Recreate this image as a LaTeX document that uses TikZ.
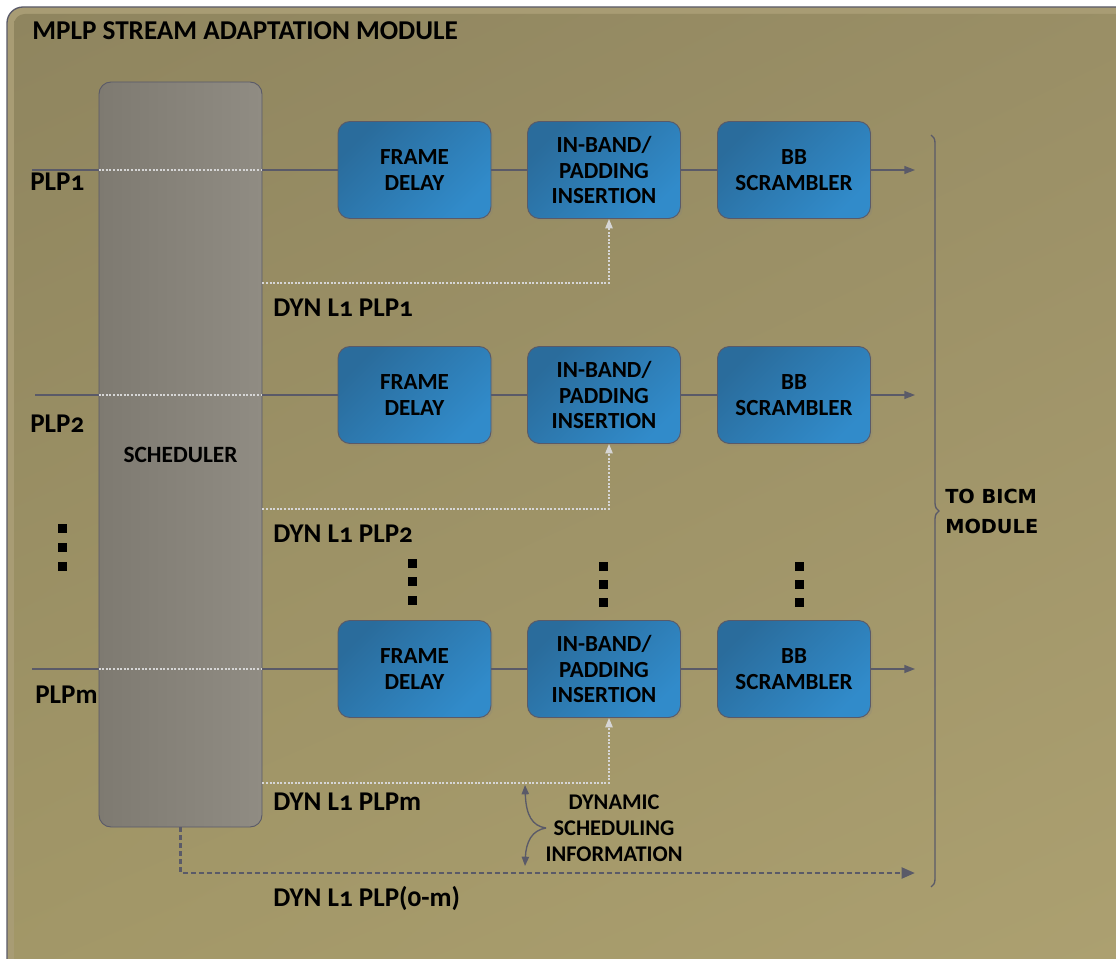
\documentclass[tikz,border=0pt]{standalone}
\usepackage{fontspec}
\setmainfont{Carlito}[Numbers=OldStyle]
\newfontfamily\vfont{DejaVu Sans}
\usetikzlibrary{arrows.meta,decorations.pathreplacing,shadows,shadings}
\definecolor{bgA}{HTML}{8F855F}
\definecolor{bgB}{HTML}{ADA171}
\definecolor{bgC}{HTML}{9A8F66}
\definecolor{bgD}{HTML}{A39868}
\definecolor{bgrim}{HTML}{A89C74}
\definecolor{blkA}{HTML}{2A6C9C}
\definecolor{blkB}{HTML}{318BCA}
\definecolor{schA}{HTML}{7E7A71}
\definecolor{schB}{HTML}{908C83}
\definecolor{linec}{HTML}{5A5A68}
\definecolor{fbc}{HTML}{D6D6D6}
\tikzset{
  blk/.style={draw=linec, line width=0.7pt, rounded corners=9pt,
    top color=blkA, bottom color=blkB, shading angle=45,
    minimum width=114.75pt, minimum height=72.75pt, inner sep=0pt, align=center,
    font=\bfseries\fontsize{17.3pt}{19.2pt}\selectfont,
    drop shadow={opacity=0.2, shadow xshift=1.5pt, shadow yshift=-1.5pt}},
  schedbox/.style={draw=linec, line width=0.7pt, rounded corners=9pt,
    left color=schA, right color=schB,
    minimum width=122.25pt, minimum height=558.75pt, inner sep=0pt,
    font=\bfseries\fontsize{17.5pt}{19pt}\selectfont},
  ln/.style={draw=linec, line width=1pt},
  dotw/.style={draw=fbc, line width=1pt, dash pattern=on 1.5pt off 1.2pt},
  fb/.style={draw=fbc, line width=1pt, dash pattern=on 1.5pt off 1.2pt,
    -{Triangle[length=7pt,width=5.5pt]}},
  outarr/.style={ln, -{Triangle[length=8pt,width=6pt]}},
  dsh/.style={draw=linec, line width=2.2pt, dash pattern=on 3.5pt off 2.5pt,
    -{Triangle[length=10pt,width=8pt]}},
  lbl/.style={anchor=west, inner sep=0pt, font=\bfseries\fontsize{20.3pt}{22pt}\selectfont},
  info/.style={inner sep=0pt, align=center, font=\bfseries\fontsize{16.8pt}{19.5pt}\selectfont},
  sq/.style={fill=black}
}
\begin{document}
\begin{tikzpicture}[x=0.75pt,y=-0.75pt]
\useasboundingbox (0,0) rectangle (1116,959);
\fill[white] (0,0) rectangle (1116,959);
\begin{scope}
\clip (0,0) rectangle (1116,959);
\path[fill=bgrim, draw=linec, line width=1pt, rounded corners=12pt] (7,7) rectangle (1150,1000);
\shade[upper left=bgA, upper right=bgC, lower left=bgD, lower right=bgB, rounded corners=8pt] (14,14) rectangle (1150,1000);
\end{scope}

\node[anchor=west, inner sep=0pt, font=\bfseries\fontsize{20.4pt}{24pt}\selectfont] (title) at (32,31) {MPLP STREAM ADAPTATION MODULE};

\node[schedbox] (sch) at (180.5,454.5) {SCHEDULER};

% rows
\foreach \i/\y/\fy/\iy in {1/170/283/32, 2/395/509/35, 3/669/783/32}{
  \node[blk] (fd\i) at (414.5,\y) {FRAME\\DELAY};
  \node[blk] (ib\i) at (604,\y) {IN-BAND/\\PADDING\\INSERTION};
  \node[blk] (bb\i) at (794,\y) {BB\\SCRAMBLER};
  \coordinate (in\i) at (\iy,\y);
  \coordinate (out\i) at (915,\y);
  \coordinate (fbk\i) at (609,\fy);
  \draw[ln] (in\i) -- (in\i -| sch.west);
  \draw[dotw] (in\i -| sch.west) -- (in\i -| sch.east);
  \draw[ln] (in\i -| sch.east) -- (fd\i.west);
  \draw[ln] (fd\i.east) -- (ib\i.west);
  \draw[ln] (ib\i.east) -- (bb\i.west);
  \draw[outarr] (bb\i.east) -- (out\i);
  \draw[fb] (fbk\i -| sch.east) -- (fbk\i) -- (ib\i.south -| fbk\i);
}

\node[lbl] (p1) at (30,182) {PLP1};
\node[lbl] (p2) at (30,424) {PLP2};
\node[lbl] (pm) at (35,695) {PLPm};
\node[lbl] (d1) at (273,308) {DYN L1 PLP1};
\node[lbl] (d2) at (273,534) {DYN L1 PLP2};
\node[lbl] (dm) at (273,802) {DYN L1 PLPm};
\node[lbl] (dall) at (273,898) {DYN L1 PLP(0-m)};

% dots
\foreach \x/\y in {62/528,62/547,62/566, 412/563,412/581,412/600, 603/566,603/584,603/602, 799/566,799/584,799/602}{
  \fill[sq] (\x-4.5,\y-4.5) rectangle (\x+4.5,\y+4.5);
}

% bottom dashed
\coordinate (dd) at (180.5,873);
\coordinate (dout) at (915,873);
\draw[dsh] (sch.south) -- (dd) -- (dout);

% brace
\coordinate (brT) at (931,135);
\coordinate (brB) at (931,887);
\draw[linec, line width=1pt, decorate, decoration={brace, amplitude=6pt}] (brT) -- (brB);
\node[anchor=west, inner sep=0pt, align=left, font=\vfont\bfseries\fontsize{14.5pt}{22.5pt}\selectfont] (bicm) at (945,511) {TO BICM\\MODULE};

% dynamic scheduling information
\coordinate (dsM) at (546,828);
\coordinate (dsT) at (525,785);
\coordinate (dsB) at (525,866);
\draw[ln, -{Triangle[length=7pt,width=5.5pt]}] (dsM) .. controls (532,826) and (526,815) .. (dsT);
\draw[ln, -{Triangle[length=7pt,width=5.5pt]}] (dsM) .. controls (532,830) and (526,842) .. (dsB);
\node[info] (dsi) at (614,828) {DYNAMIC\\SCHEDULING\\INFORMATION};
\end{tikzpicture}
\end{document}
